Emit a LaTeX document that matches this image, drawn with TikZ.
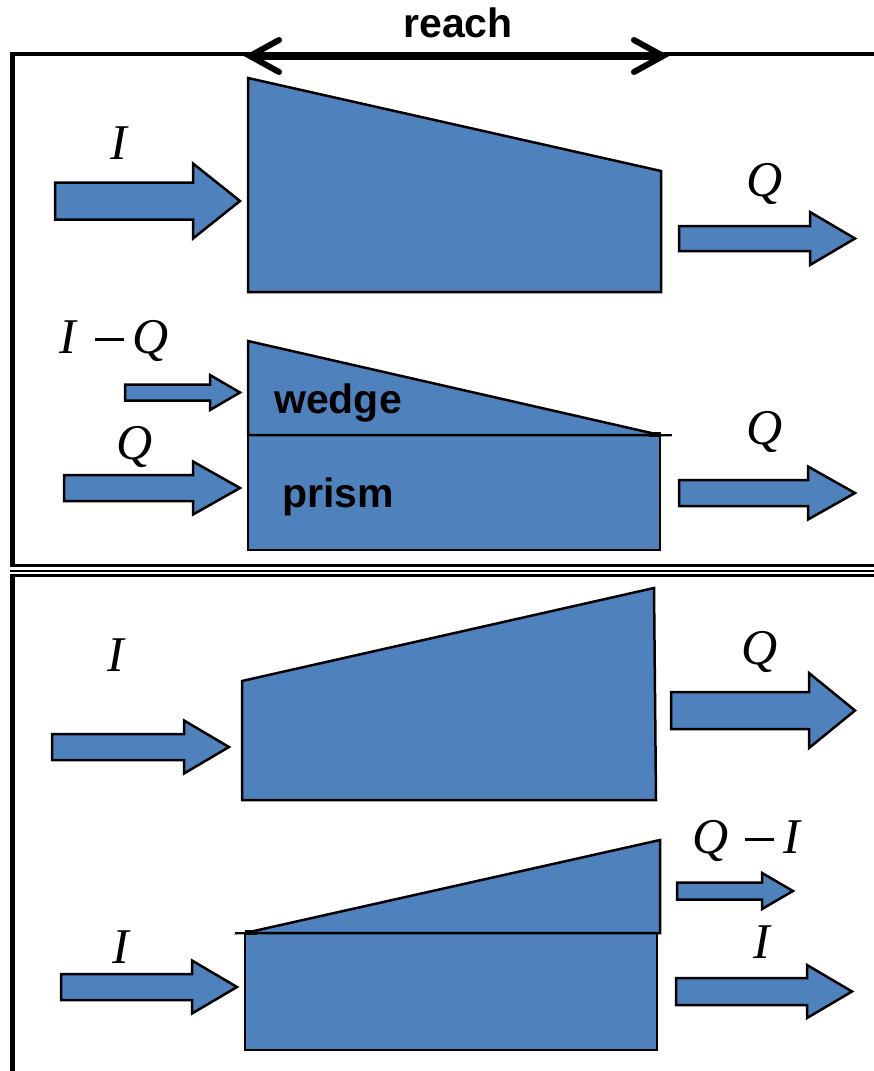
\documentclass[tikz,border=0pt]{standalone}
\usepackage{fontspec}
\setmainfont{Liberation Serif}
\newfontfamily\arialfont{Liberation Sans}
\definecolor{boxblue}{HTML}{4F81BD}
\tikzset{
  blk/.style={fill=boxblue, draw=black, line width=2.5pt, line join=miter},
  frame/.style={draw=black, line width=4.5pt},
  mathlbl/.style={font=\fontsize{50}{60}\selectfont, inner sep=0pt, anchor=base},
  boldlbl/.style={font=\arialfont\bfseries\fontsize{41}{48}\selectfont, inner sep=0pt, anchor=base},
}
\newcommand\barrow[6]{\draw[blk] (#1,#4-#5) -- (#2,#4-#5) -- (#2,#4-#6) -- (#3,#4) -- (#2,#4+#6) -- (#2,#4+#5) -- (#1,#4+#5) -- cycle;}
\newcommand\mminus{\hspace{17pt}\rule[12pt]{29pt}{2.6pt}\hspace{9pt}}
\begin{document}
\begin{tikzpicture}[x=1pt,y=-1pt]
\useasboundingbox (0,0) rectangle (874,1071);
% frames
\draw[frame] (10,54) -- (874,54);
\draw[frame] (12.5,52) -- (12.5,566);
\draw[draw=black, line width=3pt] (10,565) -- (874,565);
\draw[draw=black, line width=2.5pt] (10,571) -- (874,571);
\draw[draw=black, line width=3pt] (10,575) -- (874,575);
\draw[frame] (12.5,574) -- (12.5,1071);
% reach arrow
\coordinate (rl) at (250,56);
\coordinate (rr) at (663,56);
\draw[line width=7pt] (rl) -- (rr);
\draw[line width=6pt, line cap=round, line join=miter] (279,40) -- (rl) -- (279,72);
\draw[line width=6pt, line cap=round, line join=miter] (634,40) -- (rr) -- (634,72);
\node[boldlbl] (reach) at (458,37) {reach};
% group 1
\draw[blk] (248,78) -- (661,171) -- (661,292) -- (248,292) -- cycle;
\barrow{55}{193}{240}{201}{18.5}{37.5}
\barrow{679}{810}{855}{238.5}{12.5}{26.5}
\node[mathlbl] (i1) at (120,159) {\textit{I}};
\node[mathlbl] (q1) at (765,196) {\textit{Q}};
% group 2
\draw[blk] (248,435) rectangle (660,550);
\draw[blk] (248,341) -- (660,435) -- (248,435) -- cycle;
\draw[line width=2.5pt] (248,435) -- (672,435);
\fill[black] (649,432) rectangle (661,437);
\barrow{125}{210}{240}{392.5}{8}{17.5}
\barrow{64}{193}{240}{488}{13}{26.5}
\barrow{679}{808}{855}{493}{13}{26.5}
\node[mathlbl] (iq) at (114,353) {\textit{I}\mminus\textit{Q}};
\node[mathlbl] (q2) at (135,459) {\textit{Q}};
\node[mathlbl] (q3) at (765,444) {\textit{Q}};
\node[boldlbl] (wedge) at (338,413) {wedge};
\node[boldlbl] (prism) at (338,507) {prism};
% group 3
\draw[blk] (242,681) -- (654,588) -- (656,800) -- (242,800) -- cycle;
\barrow{52}{184}{229}{747}{13}{26.5}
\barrow{671}{809}{855}{710.5}{18.5}{37.5}
\node[mathlbl] (i3) at (117,671) {\textit{I}};
\node[mathlbl] (q4) at (760,664) {\textit{Q}};
% group 4
\draw[blk] (245,933) rectangle (657,1050);
\draw[blk] (245,933) -- (660,840) -- (660,933) -- cycle;
\draw[line width=2.5pt] (235,933) -- (660,933);
\fill[black] (245,930) rectangle (257,935);
\barrow{677}{762}{793}{891}{8.5}{18}
\barrow{61}{192}{237}{987}{13}{26.5}
\barrow{676}{807}{852}{991.5}{13.5}{26.5}
\node[mathlbl] (qi) at (747,853) {\textit{Q}\mminus\textit{I}};
\node[mathlbl] (i4) at (122,963) {\textit{I}};
\node[mathlbl] (i5) at (763,958) {\textit{I}};
\end{tikzpicture}
\end{document}
